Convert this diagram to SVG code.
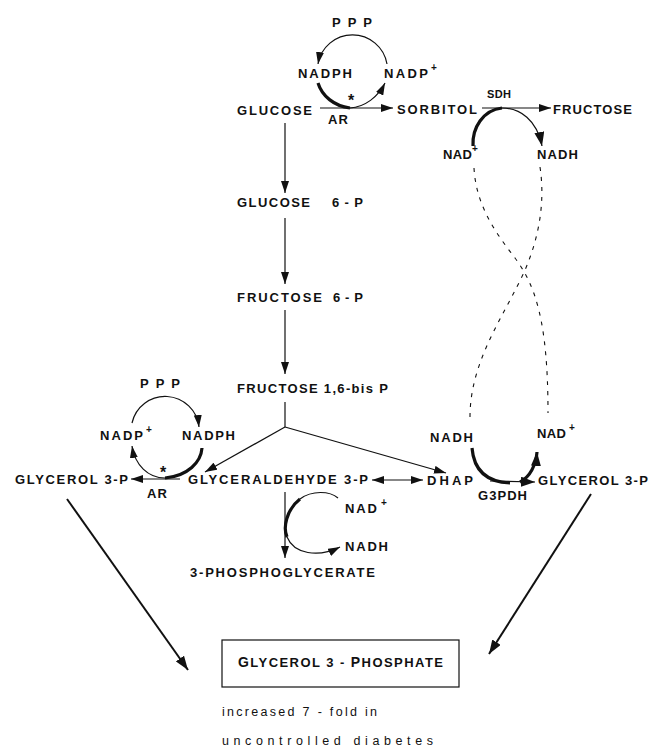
<svg xmlns="http://www.w3.org/2000/svg" width="651" height="749" viewBox="0 0 651 749">
<style>
.t{font-family:"Liberation Sans",Arial,sans-serif;font-weight:bold;font-size:13px;fill:#111}
.s{font-family:"Liberation Sans",Arial,sans-serif;font-weight:bold;font-size:10px;fill:#111}
.n{font-family:"Liberation Sans",Arial,sans-serif;font-size:12.5px;fill:#111}
.ln{fill:none;stroke:#111;stroke-width:1.2}
.tk{fill:none;stroke:#111;stroke-width:3.2}
.md{fill:none;stroke:#111;stroke-width:2}
.ds{fill:none;stroke:#111;stroke-width:1.1;stroke-dasharray:4 6}
</style>
<defs>
<marker id="ah" markerUnits="userSpaceOnUse" markerWidth="13" markerHeight="8" refX="12" refY="4" orient="auto"><path d="M0,0 L12,4 L0,8 z" fill="#111"/></marker>
<marker id="ahs" markerUnits="userSpaceOnUse" markerWidth="13" markerHeight="8" refX="12" refY="4" orient="auto-start-reverse"><path d="M0,0 L12,4 L0,8 z" fill="#111"/></marker>
<marker id="ahb" markerUnits="userSpaceOnUse" markerWidth="15" markerHeight="10" refX="14" refY="5" orient="auto"><path d="M0,0 L14,5 L0,10 z" fill="#111"/></marker>
</defs>

<g id="connectors">
  <path class="ln" d="M285,123 L285,193" marker-end="url(#ah)"/>
  <path class="ln" d="M285,218 L285,284" marker-end="url(#ah)"/>
  <path class="ln" d="M285,310 L285,374" marker-end="url(#ah)"/>
  <path class="ln" d="M285,402 L285,427"/>
  <path class="ln" d="M285,427 L205,472" marker-end="url(#ah)"/>
  <path class="ln" d="M285,427 L446,473" marker-end="url(#ah)"/>
  <path class="ln" d="M320,108 L393,108" marker-end="url(#ah)"/>
  <path class="ln" d="M387,64 A35,35 0 0 0 318,64" marker-end="url(#ah)"/>
  <path class="tk" d="M318,83 C322,96 334,106 350,108"/>
  <path class="ln" d="M350,108 C365,107 378,97 385,83" marker-end="url(#ah)"/>
  <path class="ln" d="M482,108 L551,108" marker-end="url(#ah)"/>
  <path class="tk" d="M473,146 C472,128 483,110 502,108"/>
  <path class="ln" d="M502,108 C520,108 537,120 542,146" marker-end="url(#ahb)"/>
  <path class="ds" d="M474,168 C476,205 495,232 515,258 C535,285 548,320 548,413"/>
  <path class="ds" d="M540,167 C545,200 540,235 525,270 C505,315 470,360 470,417"/>
  <path class="ln" d="M132,423 A34,34 0 0 1 199,427" marker-end="url(#ah)"/>
  <path class="tk" d="M202,448 C201,462 188,476 165,478"/>
  <path class="ln" d="M165,478 C148,478 135,465 132,446" marker-end="url(#ah)"/>
  <path class="ln" d="M180,479 L131,479" marker-end="url(#ah)"/>
  <path class="ln" d="M372,480 L423,480" marker-start="url(#ahs)" marker-end="url(#ahs)"/>
  <path class="tk" d="M472,448 C474,472 488,482 510,483"/>
  <path class="ln" d="M490,481 L535,482" marker-end="url(#ahb)"/>
  <path class="tk" d="M520,482 C530,477 536,465 537,452" marker-end="url(#ahb)"/>
  <path class="ln" d="M285,492 L285,558" marker-end="url(#ah)"/>
  <path class="ln" d="M338,498 C330,491 312,490 300,499"/>
  <path class="tk" d="M300,499 C286,510 283,528 287,537"/>
  <path class="ln" d="M287,537 C294,554 318,558 340,547" marker-end="url(#ah)"/>
  <path class="md" d="M67,499 L188,670" marker-end="url(#ahb)"/>
  <path class="md" d="M591,494 L489,654" marker-end="url(#ahb)"/>
</g>

<g id="ppp-top"><text class="t" x="332" y="27" textLength="40" lengthAdjust="spacing">PPP</text></g>
<g id="nadph-top"><text class="t" x="298" y="78" textLength="54" lengthAdjust="spacing">NADPH</text></g>
<g id="nadp-top"><text class="t" x="384" y="78" textLength="44" lengthAdjust="spacing">NADP</text><text class="s" x="431" y="71">+</text></g>
<g id="glucose"><text class="t" x="237" y="115" textLength="75" lengthAdjust="spacing">GLUCOSE</text></g>
<g id="ar-top"><text class="t" x="351" y="106" text-anchor="middle" style="font-size:16px">*</text><text class="t" x="328" y="124" textLength="20" lengthAdjust="spacing">AR</text></g>
<g id="sorbitol"><text class="t" x="397" y="114" textLength="80" lengthAdjust="spacing">SORBITOL</text></g>
<g id="sdh"><text class="t" x="487" y="98" textLength="24" lengthAdjust="spacing" style="font-size:11px">SDH</text></g>
<g id="fructose"><text class="t" x="553" y="114" textLength="79" lengthAdjust="spacing">FRUCTOSE</text></g>
<g id="nad-upper"><text class="t" x="443" y="159" textLength="29" lengthAdjust="spacing">NAD</text><text class="s" x="472" y="152">+</text></g>
<g id="nadh-upper"><text class="t" x="537" y="159" textLength="41" lengthAdjust="spacing">NADH</text></g>
<g id="glucose6p"><text class="t" x="237" y="207" textLength="73" lengthAdjust="spacing">GLUCOSE</text><text class="t" x="332" y="207" textLength="31" lengthAdjust="spacing">6 - P</text></g>
<g id="fructose6p"><text class="t" x="237" y="302" textLength="85" lengthAdjust="spacing">FRUCTOSE</text><text class="t" x="333" y="302" textLength="30" lengthAdjust="spacing">6 - P</text></g>
<g id="fructose16bp"><text class="t" x="237" y="393" textLength="151" lengthAdjust="spacing">FRUCTOSE 1,6-bis P</text></g>
<g id="ppp-low"><text class="t" x="140" y="388" textLength="40" lengthAdjust="spacing">PPP</text></g>
<g id="nadp-low"><text class="t" x="100" y="440" textLength="43" lengthAdjust="spacing">NADP</text><text class="s" x="146" y="433">+</text></g>
<g id="nadph-low"><text class="t" x="182" y="440" textLength="53" lengthAdjust="spacing">NADPH</text></g>
<g id="ar-low"><text class="t" x="163" y="478" text-anchor="middle" style="font-size:16px">*</text><text class="t" x="147" y="498" textLength="20" lengthAdjust="spacing">AR</text></g>
<g id="glycerol3p-left"><text class="t" x="15" y="484" textLength="113" lengthAdjust="spacing">GLYCEROL 3-P</text></g>
<g id="glyceraldehyde3p"><text class="t" x="188" y="484" textLength="180" lengthAdjust="spacing">GLYCERALDEHYDE 3-P</text></g>
<g id="dhap"><text class="t" x="427" y="485" textLength="46" lengthAdjust="spacing">DHAP</text></g>
<g id="glycerol3p-right"><text class="t" x="538" y="485" textLength="110" lengthAdjust="spacing">GLYCEROL 3-P</text></g>
<g id="nadh-low"><text class="t" x="430" y="442" textLength="43" lengthAdjust="spacing">NADH</text></g>
<g id="nad-low"><text class="t" x="537" y="438" textLength="29" lengthAdjust="spacing">NAD</text><text class="s" x="569" y="431">+</text></g>
<g id="g3pdh"><text class="t" x="478" y="500" textLength="49" lengthAdjust="spacing">G3PDH</text></g>
<g id="nad-mid"><text class="t" x="345" y="513" textLength="32" lengthAdjust="spacing">NAD</text><text class="s" x="381" y="506">+</text></g>
<g id="nadh-mid"><text class="t" x="345" y="551" textLength="43" lengthAdjust="spacing">NADH</text></g>
<g id="phosphoglycerate"><text class="t" x="190" y="577" textLength="185" lengthAdjust="spacing">3-PHOSPHOGLYCERATE</text></g>
<g id="glycerol3phosphate">
  <rect x="222" y="640" width="237" height="47" fill="none" stroke="#111" stroke-width="1.2"/>
  <text class="t" x="238" y="667" textLength="205" lengthAdjust="spacing"><tspan style="font-size:14px">G</tspan>LYCEROL 3 - <tspan style="font-size:14px">P</tspan>HOSPHATE</text>
</g>
<g id="note">
  <text class="n" x="222" y="716" textLength="155" lengthAdjust="spacing">increased 7 - fold in</text>
  <text class="n" x="222" y="745" textLength="211" lengthAdjust="spacing">uncontrolled  diabetes</text>
</g>
</svg>
